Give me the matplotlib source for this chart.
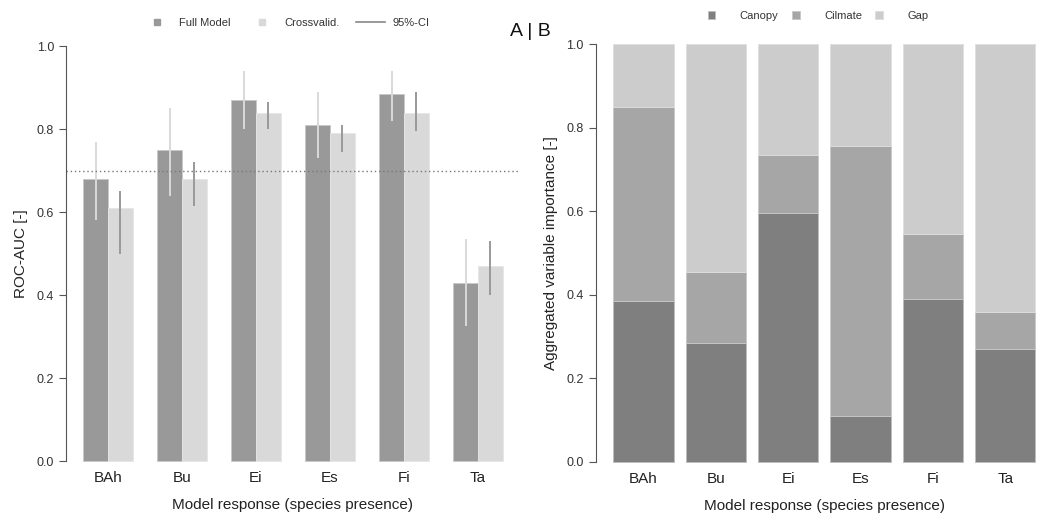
import numpy as np
import matplotlib
matplotlib.use('Agg')
import matplotlib.pyplot as plt
from matplotlib.lines import Line2D

plt.rcParams['font.family'] = ['Liberation Sans', 'DejaVu Sans']

# data
species = ['BAh', 'Bu', 'Ei', 'Es', 'Fi', 'Ta']
auc_full = [0.68, 0.75, 0.87, 0.81, 0.885, 0.43]
auc_full_lo = [0.58, 0.64, 0.80, 0.73, 0.82, 0.325]
auc_full_hi = [0.77, 0.85, 0.94, 0.89, 0.94, 0.535]
auc_cv = [0.61, 0.68, 0.84, 0.79, 0.84, 0.47]
auc_cv_lo = [0.50, 0.615, 0.80, 0.745, 0.795, 0.40]
auc_cv_hi = [0.65, 0.72, 0.865, 0.81, 0.89, 0.53]
auc_threshold = 0.7

imp_canopy = [0.385, 0.285, 0.595, 0.11, 0.39, 0.27]
imp_climate = [0.465, 0.17, 0.14, 0.645, 0.155, 0.09]
imp_gap = [1 - a - b for a, b in zip(imp_canopy, imp_climate)]

c_full = '#999999'
c_cv = '#d9d9d9'
c_can = '#7f7f7f'
c_cli = '#a6a6a6'
c_gap = '#cccccc'
txt = '#222222'

fig = plt.figure(figsize=(10.37, 5.15), dpi=100)

# ---- panel A ----
ax1 = fig.add_axes([0.0641, 0.0726, 0.4368, 0.870])
n = len(species)
x_full = np.arange(n) * 3 + 1.5
x_cv = x_full + 1
ax1.bar(x_full, auc_full, width=1, color=c_full, edgecolor='#c8c8c8', linewidth=0.6)
ax1.bar(x_cv, auc_cv, width=1, color=c_cv, edgecolor='#e6e6e6', linewidth=0.6)
ax1.vlines(x_full, auc_full_lo, auc_full_hi, color=c_cv, linewidth=1.4)
ax1.vlines(x_cv, auc_cv_lo, auc_cv_hi, color=c_full, linewidth=1.4)
ax1.axhline(auc_threshold, color='#777777', linestyle=(0, (1, 2)), linewidth=1)
ax1.set_xlim(0.32, 18.68)
ax1.set_ylim(-0.04, 1.04)
ax1.set_xticks(x_full + 0.5)
ax1.set_xticklabels(species, fontsize=11, color=txt)
ax1.set_ylabel('ROC-AUC [-]', fontsize=11, color=txt, labelpad=6)
ax1.set_xlabel('Model response (species presence)', fontsize=11, color=txt, labelpad=9.5)

legend1 = [Line2D([], [], marker='s', linestyle='none', color=c_full, markersize=5),
           Line2D([], [], marker='s', linestyle='none', color=c_cv, markersize=5),
           Line2D([], [], color='#888888', linewidth=1.2)]
ax1.legend(legend1, ['Full Model', 'Crossvalid.', '95%-CI'], loc='center',
           bbox_to_anchor=(0.276, 0.955), bbox_transform=fig.transFigure,
           ncol=3, frameon=False, fontsize=8, handlelength=2.6,
           handletextpad=0.7, columnspacing=1.5, labelcolor='#333333')

# ---- panel B ----
ax2 = fig.add_axes([0.5751, 0.0705, 0.4396, 0.8765])
xb = np.arange(n) * 1.2 + 0.7
ax2.bar(xb, imp_canopy, width=1, color=c_can, edgecolor='#bdbdbd', linewidth=0.6, label='Canopy')
ax2.bar(xb, imp_climate, width=1, bottom=imp_canopy, color=c_cli, edgecolor='#c8c8c8',
        linewidth=0.6, label='Cilmate')
ax2.bar(xb, imp_gap, width=1, bottom=[a + b for a, b in zip(imp_canopy, imp_climate)],
        color=c_gap, edgecolor='#dedede', linewidth=0.6, label='Gap')
ax2.set_xlim(-0.08, 7.48)
ax2.set_ylim(-0.04, 1.04)
ax2.set_xticks(xb)
ax2.set_xticklabels(species, fontsize=11, color=txt)
ax2.set_ylabel('Aggregated variable importance [-]', fontsize=11, color=txt, labelpad=6)
ax2.set_xlabel('Model response (species presence)', fontsize=11, color=txt, labelpad=9.5)
ax2.legend(loc='center', bbox_to_anchor=(0.789, 0.969), bbox_transform=fig.transFigure,
           ncol=3, frameon=False, fontsize=8, handlelength=0.7, handleheight=0.7,
           handletextpad=2.2, columnspacing=1.2, labelcolor='#333333')

for ax in (ax1, ax2):
    for s in ('top', 'right', 'bottom'):
        ax.spines[s].set_visible(False)
    ax.spines['left'].set_bounds(0, 1)
    ax.spines['left'].set_color('#555555')
    ax.set_yticks([0, 0.2, 0.4, 0.6, 0.8, 1.0])
    ax.set_yticklabels(['0.0', '0.2', '0.4', '0.6', '0.8', '1.0'])
    ax.tick_params(axis='y', length=5, color='#555555', labelsize=9, labelcolor='#333333', pad=4)
    ax.tick_params(axis='x', length=0, pad=-5)

fig.text(0.511, 0.938, 'A | B', fontsize=14, ha='center', va='center', color='#111111')

fig.savefig('out.png', dpi=100)
